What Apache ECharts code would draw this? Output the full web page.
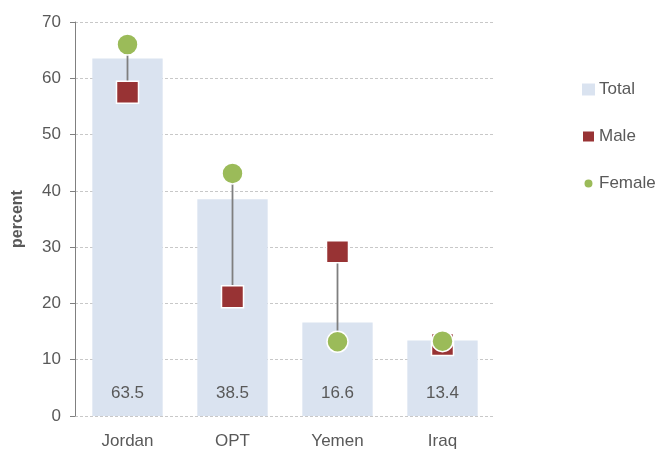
<!DOCTYPE html>
<html>
<head>
<meta charset="utf-8">
<script src="https://cdn.jsdelivr.net/npm/echarts@6/dist/echarts.min.js"></script>
<style>
html, body { margin: 0; padding: 0; background: #fff; }
#chart { width: 655px; height: 452px; }
</style>
</head>
<body>
<div id="chart"></div>
<script>
var categories = ['Jordan', 'OPT', 'Yemen', 'Iraq'];
var totalValues = [63.5, 38.5, 16.6, 13.4];
var maleValues = [57.5, 21.2, 29.2, 12.7];
var femaleValues = [66.0, 43.1, 13.2, 13.3];
var yTicks = [0, 10, 20, 30, 40, 50, 60, 70];

var font = "'Liberation Sans Narrow', 'Liberation Sans', Arial, sans-serif";
var textColor = '#595959';

var myChart = echarts.init(document.getElementById('chart'));

var rangeData = categories.map(function (c, i) {
    return [i, maleValues[i], femaleValues[i]];
});

var option = {
    animation: false,
    textStyle: { fontFamily: font },
    grid: { left: 75, right: 160, top: 22, bottom: 36 },
    legend: {
        orient: 'vertical',
        left: 576,
        top: 76,
        itemGap: 30,
        itemWidth: 13,
        itemHeight: 12,
        textStyle: { fontFamily: font, fontSize: 17, color: textColor, padding: [0, 0, 0, -1] },
        data: [
            { name: 'Total', icon: 'rect' },
            { name: 'Male', icon: 'rect' },
            { name: 'Female', icon: 'path://M6,2 A4,4 0 1 1 5.99,2 Z M0,0 L0,0 Z M12,12 L12,12 Z', itemStyle: { borderWidth: 0 } }
        ]
    },
    xAxis: {
        type: 'category',
        data: categories,
        axisLine: { show: false },
        axisTick: { show: false },
        axisLabel: { fontFamily: font, fontSize: 17, color: textColor, margin: 17 }
    },
    yAxis: {
        type: 'value',
        min: yTicks[0],
        max: yTicks[yTicks.length - 1],
        interval: 10,
        name: 'percent',
        nameLocation: 'middle',
        nameGap: 49,
        nameTextStyle: { fontFamily: font, fontSize: 16, fontWeight: 'bold', color: textColor },
        axisLine: { show: true, lineStyle: { color: '#808080' } },
        axisTick: { show: true, inside: false, length: 5, lineStyle: { color: '#808080' } },
        axisLabel: { fontFamily: font, fontSize: 17, color: textColor, margin: 14 },
        splitLine: { lineStyle: { color: '#c8c8c8', type: [3, 2] } }
    },
    series: [
        {
            name: 'Total',
            type: 'bar',
            barWidth: '67%',
            data: totalValues,
            itemStyle: { color: '#dae3f0' },
            label: {
                show: true,
                position: 'insideBottom',
                distance: 14,
                fontFamily: font,
                fontSize: 17,
                color: textColor,
                formatter: function (p) { return p.value.toFixed(1); }
            },
            z: 1
        },
        {
            name: 'range',
            type: 'custom',
            data: rangeData,
            encode: { x: 0, y: [1, 2] },
            z: 2,
            silent: true,
            renderItem: function (params, api) {
                var a = api.coord([api.value(0), api.value(1)]);
                var b = api.coord([api.value(0), api.value(2)]);
                return {
                    type: 'line',
                    shape: { x1: a[0], y1: a[1], x2: b[0], y2: b[1] },
                    style: { stroke: '#7f7f7f', lineWidth: 1.8 }
                };
            }
        },
        {
            name: 'Male',
            type: 'scatter',
            symbol: 'rect',
            symbolSize: 22,
            data: maleValues,
            itemStyle: { color: '#983334', borderColor: '#fff', borderWidth: 1.5, opacity: 1 },
            z: 3
        },
        {
            name: 'Female',
            type: 'scatter',
            symbol: 'circle',
            symbolSize: 21,
            data: femaleValues,
            itemStyle: { color: '#9bbb59', borderColor: '#fff', borderWidth: 1.5, opacity: 1 },
            z: 4
        }
    ]
};
myChart.setOption(option);
</script>
</body>
</html>
